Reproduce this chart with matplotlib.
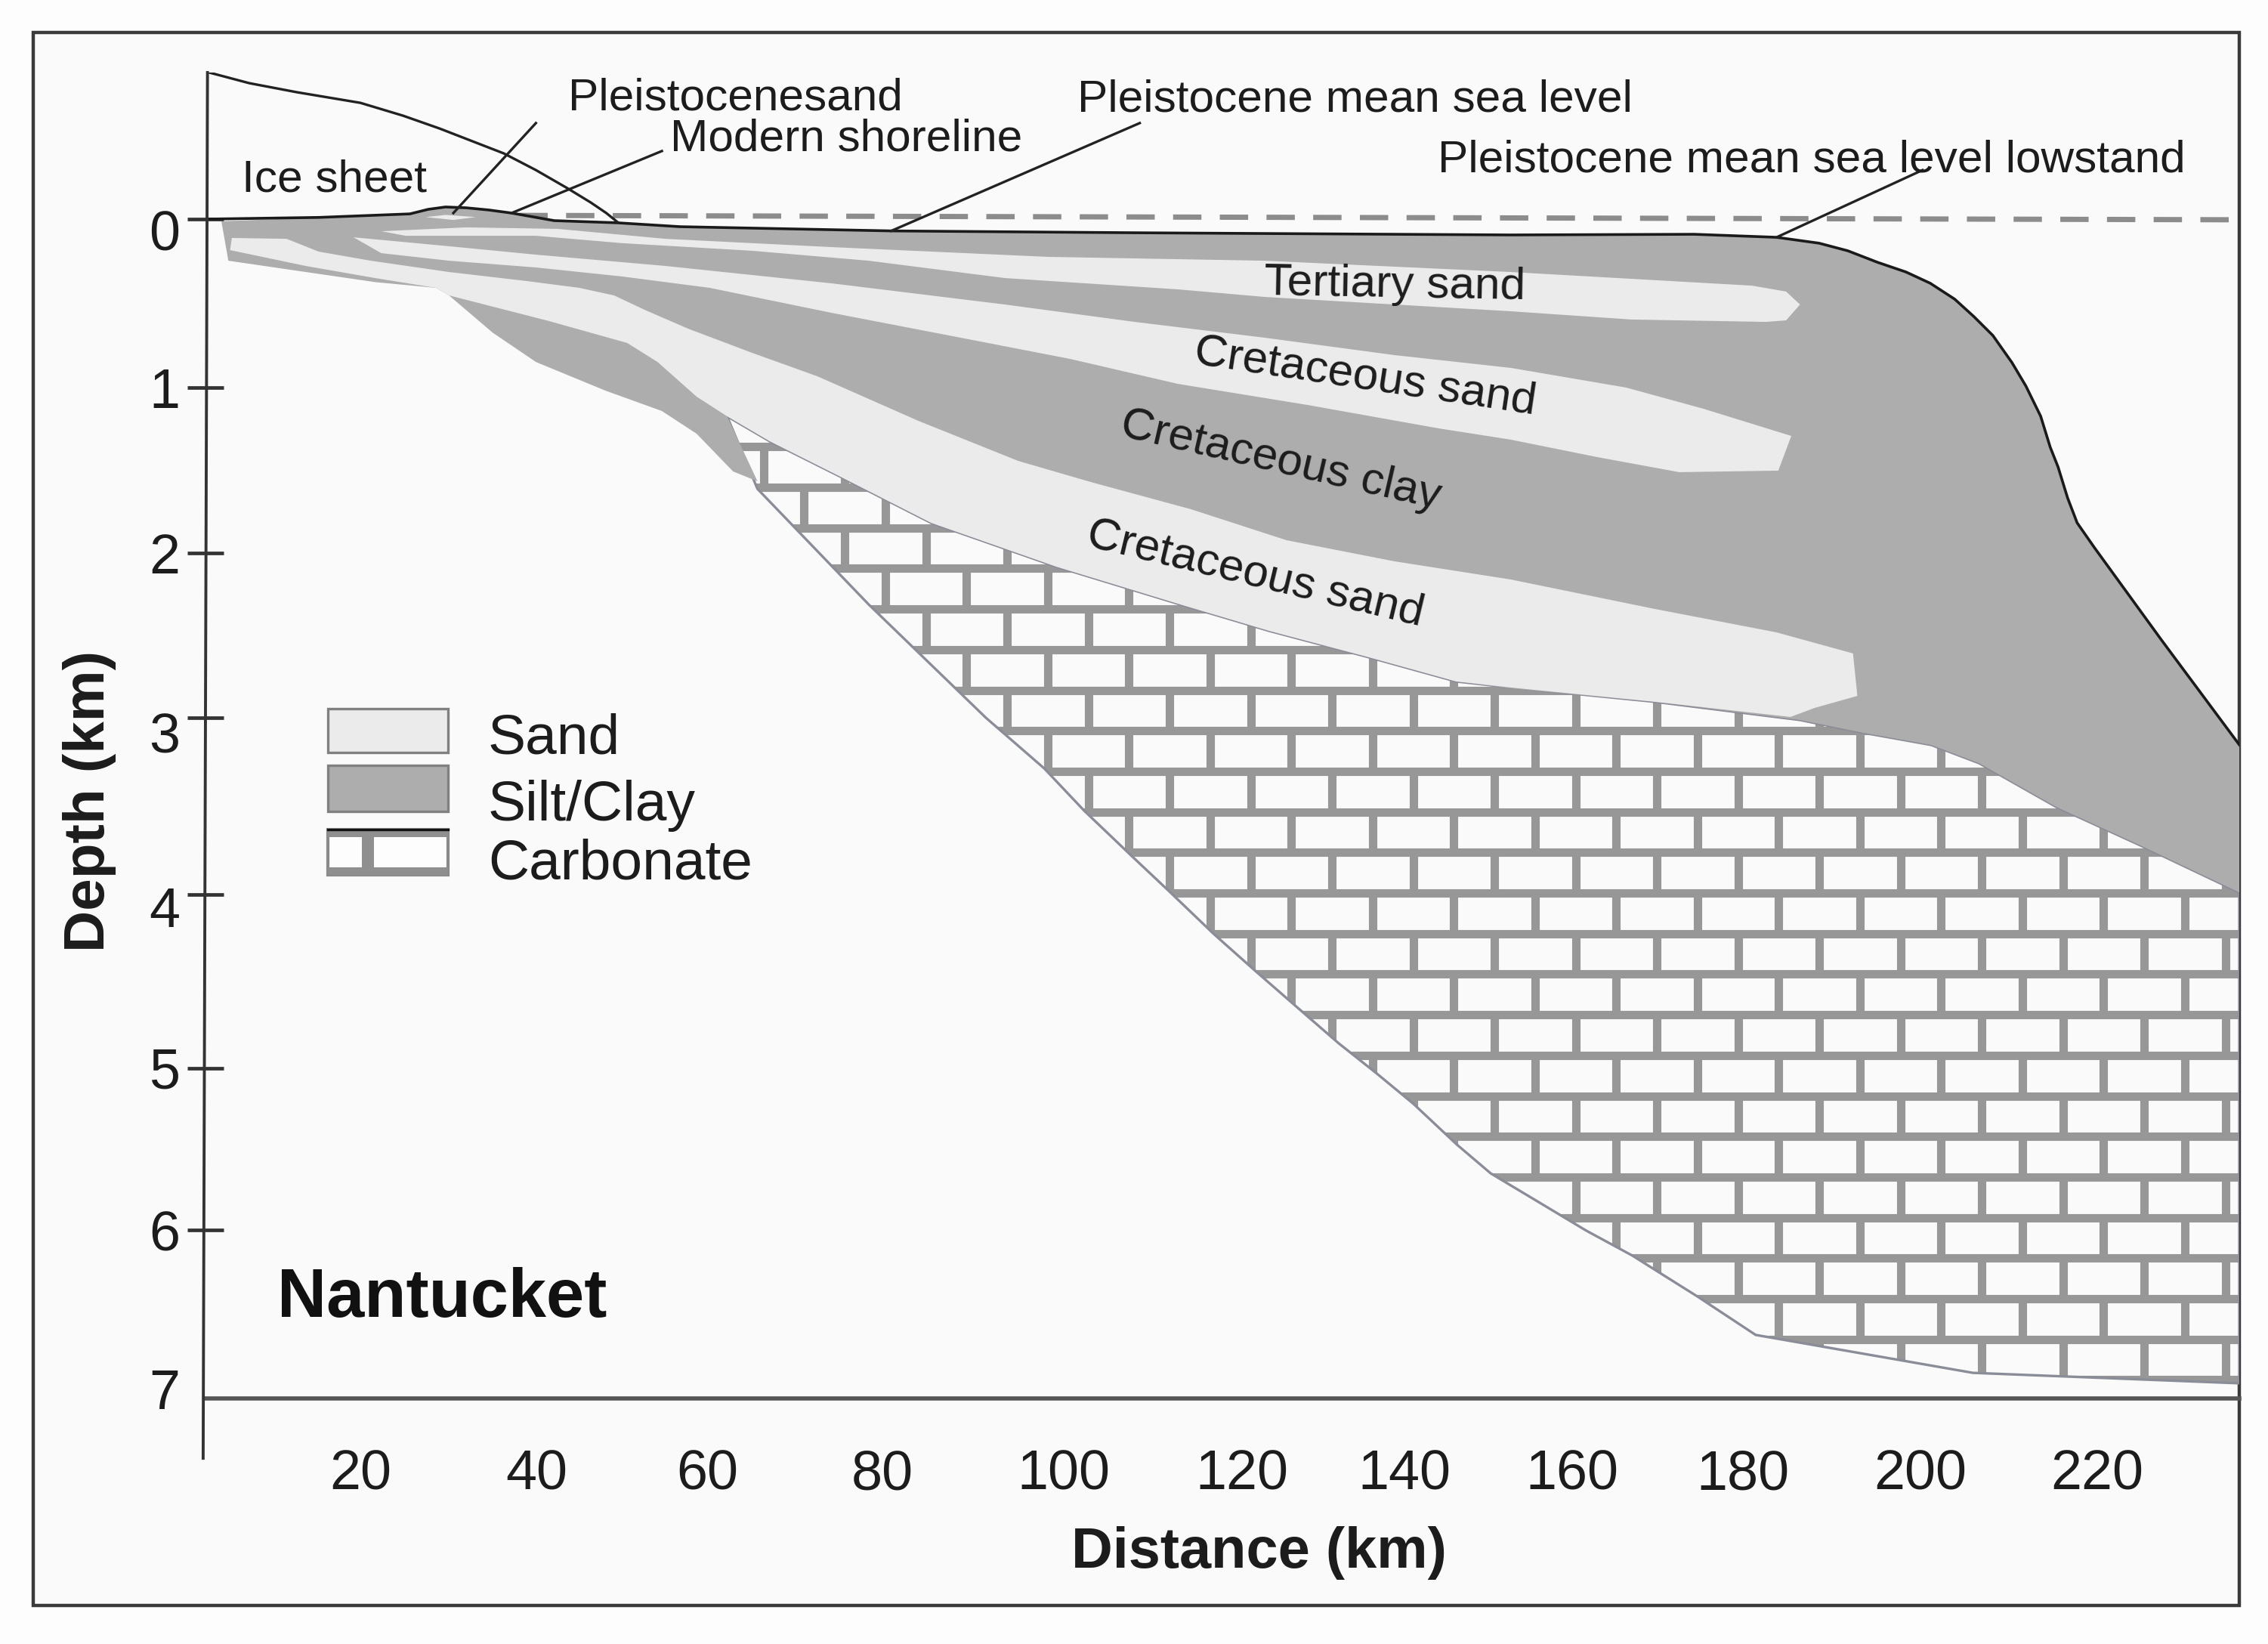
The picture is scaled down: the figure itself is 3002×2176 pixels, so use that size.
import numpy as np
import matplotlib
matplotlib.use("Agg")
import matplotlib.pyplot as plt
from matplotlib.patches import Polygon, Rectangle
from matplotlib.transforms import ScaledTranslation

plt.rcParams['font.family'] = ['Liberation Sans', 'DejaVu Sans']

W, H = 3002, 2176
TXT = '#1c1c1c'
SILT = '#adadad'
SAND = '#ebebeb'
MORTAR = '#979797'

# axis ticks as they sit on the drawing (km), the figure is a sketch so not evenly spaced
x_tick_pos = [20, 40.3, 59.9, 80.1, 100.9, 121.5, 140.2, 159.5, 179.1, 199.5, 219.9]
x_tick_labels = ['20', '40', '60', '80', '100', '120', '140', '160', '180', '200', '220']
y_tick_pos = [0, 1, 1.98, 2.96, 4.01, 5.04, 6, 7]
y_tick_labels = ['0', '1', '2', '3', '4', '5', '6', '7']
y_label_shift = [14, 0, 0, 19, 16, 0, 0, -13]

# distance (km), depth (km)
ice_x = [2.6, 7.2, 12.7, 16.3, 20, 24.9, 29.1, 32.9, 36.5, 40.2, 43.8, 46.5, 48.3, 49.6]
ice_z = [-0.87, -0.807, -0.753, -0.722, -0.69, -0.614, -0.538, -0.462, -0.39, -0.291, -0.184, -0.099, -0.036, 0.018]

surface_x = [2.2, 15.2, 25.7, 27.8, 29.8, 32.2, 34.8, 37.4, 42.3, 49.6, 56.8, 81.1, 109, 152.4, 173.5,
             183, 187.9, 191.2, 194.6, 197.9, 200.7, 203.5, 205.7, 207.9, 210.1, 211.7, 213.4, 214.5, 215.4,
             216.5, 217.6, 219.6, 227.3, 236.26]
surface_z = [0, -0.01, -0.031, -0.058, -0.072, -0.067, -0.054, -0.036, 0.009, 0.022, 0.045, 0.07, 0.081, 0.094, 0.09,
             0.108, 0.143, 0.188, 0.256, 0.314, 0.381, 0.475, 0.578, 0.691, 0.852, 0.991, 1.17, 1.354, 1.471,
             1.655, 1.803, 1.951, 2.498, 3.12]

silt_base_x = [236.26, 224.7, 215.2, 206.3, 200.8, 193, 185.7, 169, 152.4, 146.1, 136.1, 124.6, 114.1,
               100.1, 85.7, 75.1, 67.1, 62.2, 65.7, 62.9, 58.7, 54.7, 48.2, 40.2, 35.2, 30.2, 28.7, 21.7, 4.8, 4.0]
silt_base_z = [3.996, 3.713, 3.489, 3.229, 3.121, 3.049, 2.973, 2.865, 2.785, 2.744, 2.601, 2.444, 2.283,
               2.063, 1.803, 1.525, 1.318, 1.17, 1.556, 1.498, 1.274, 1.139, 1.018, 0.848, 0.673, 0.453, 0.408, 0.374, 0.247, 0.013]

sand_low_x = [5.2, 11.5, 15.2, 21.2, 30.2, 39.2, 45.2, 49.2, 52.7, 57.7, 65.1, 72.6, 84.2, 95.7, 104.1, 115.6,
              126.6, 139, 152.4, 169, 183, 191.8, 192.3, 187.4, 184.6, 169, 152.4, 146.1, 136.1, 124.6, 114.1,
              100.1, 85.7, 75.1, 67.1, 62.2, 58.7, 54.2, 50.7, 41.7, 30.2, 28.7, 21.7, 13.7, 5.0]
sand_low_z = [0.112, 0.117, 0.193, 0.247, 0.314, 0.368, 0.408, 0.453, 0.538, 0.65, 0.794, 0.933, 1.197, 1.435, 1.561, 1.722,
              1.906, 2.031, 2.139, 2.314, 2.453, 2.578, 2.83, 2.901, 2.955, 2.865, 2.78, 2.744, 2.601, 2.444, 2.283,
              2.063, 1.803, 1.525, 1.318, 1.17, 1.054, 0.848, 0.735, 0.605, 0.453, 0.408, 0.35, 0.278, 0.184]

sand_mid_x = [19.2, 30.2, 40.2, 55.1, 74.2, 94.2, 109.1, 124.1, 139, 152.4, 165.7, 174.6, 184.7, 183.2, 171.8,
              162.4, 152.4, 144.1, 129, 114.1, 101.7, 89.1, 74.2, 60.2, 50.2, 40.2, 30.2, 22.4]
sand_mid_z = [0.108, 0.161, 0.211, 0.278, 0.381, 0.507, 0.61, 0.704, 0.807, 0.883, 1, 1.126, 1.287, 1.493, 1.502,
              1.413, 1.309, 1.242, 1.103, 0.978, 0.83, 0.704, 0.556, 0.408, 0.341, 0.287, 0.247, 0.202]

sand_top_x = [22.4, 32.2, 42.7, 55.1, 74.2, 99.1, 124.1, 152.4, 180.2, 184.1, 185.7, 184.1, 181.8, 166.3,
              152.4, 124.1, 114.1, 94.2, 78.5, 65.1, 50.2, 40.2, 25.2]
sand_top_z = [0.072, 0.049, 0.058, 0.117, 0.166, 0.224, 0.247, 0.314, 0.395, 0.43, 0.507, 0.601, 0.61, 0.596,
              0.547, 0.462, 0.417, 0.35, 0.247, 0.188, 0.143, 0.099, 0.099]

sand_hill_x = [27.5, 29.8, 33.3, 30.7]
sand_hill_z = [-0.012, -0.025, -0.012, 0.005]

carb_x = [62.2, 67.1, 75.1, 85.7, 100.1, 114.1, 124.6, 136.1, 146.1, 152.4, 169, 185.7, 193, 200.8, 206.3, 215.2, 224.7, 236.26,
          236.26, 205.6, 180.6, 173.9, 166.4, 161.1, 150.1, 146.2, 141.2, 137, 132.6, 127.9, 123, 118.2, 113.3, 108.4, 103.3, 98.7, 92, 78.5, 65.7]
carb_z = [1.17, 1.318, 1.525, 1.803, 2.063, 2.283, 2.444, 2.601, 2.744, 2.78, 2.865, 2.973, 3.049, 3.121, 3.229, 3.489, 3.713, 3.996,
          6.91, 6.848, 6.623, 6.395, 6.152, 6.004, 5.664, 5.493, 5.251, 5.072, 4.892, 4.682, 4.462, 4.242, 4, 3.762, 3.511, 3.26, 2.96, 2.287, 1.601]

sea_level_x = [38.3, 236.26]
sea_level_z = [-0.022, 0.004]

# leader lines: start and end of each
leaders = {
    'pleistocene sand': ([40.2, 30.7], [-0.57, -0.036]),
    'shoreline': ([54.7, 37.4], [-0.404, -0.036]),
    'sea level': ([109.7, 81.1], [-0.57, 0.07]),
    'lowstand': ([199.8, 183], [-0.291, 0.108]),
}

fig = plt.figure(figsize=(W / 100, H / 100), dpi=100, facecolor='#fdfdfd')


def fx(x):
    return x / W


def fy(y):
    return 1 - y / H


def fig_box(x0, y0, x1, y1, **kw):
    fig.add_artist(Rectangle((fx(x0), fy(y1)), (x1 - x0) / W, (y1 - y0) / H, transform=fig.transFigure, **kw))


# frame
fig_box(44, 43, 2964, 2125, facecolor='#fafafa', edgecolor='#3a3a3a', linewidth=3.2, zorder=-1)

ax = fig.add_axes([fx(272), fy(1851), (2964 - 272) / W, (1851 - 96) / H])
ax.patch.set_visible(False)
ax.set_xlim(2.17, 236.26)
ax.set_ylim(7, -0.87)
for s in ['top', 'right', 'left']:
    ax.spines[s].set_visible(False)
ax.spines['bottom'].set_linewidth(4)
ax.spines['bottom'].set_color('#555555')

# carbonate, bricks clipped to the outline
carb = Polygon(np.column_stack([carb_x, carb_z]), closed=True, facecolor='#fafafa', edgecolor='none', zorder=1)
ax.add_patch(carb)
row_h = 0.2408
brick_w = 9.348
for k in range(-10, 17):
    z = 3.037 + k * row_h
    hl = ax.hlines(z, 2.17, 236.26, color=MORTAR, linewidth=8, zorder=2)
    hl.set_clip_path(carb)
    start = 155.2 if k % 2 == 0 else 159.9
    xs = start + brick_w * np.arange(-20, 12)
    vl = ax.vlines(xs, z, z + row_h, color=MORTAR, linewidth=8, zorder=2)
    vl.set_clip_path(carb)
ax.add_patch(Polygon(np.column_stack([carb_x, carb_z]), closed=True, facecolor='none',
                     edgecolor='#8a8d98', linewidth=2.4, zorder=3))

# sediment layers
silt_x = surface_x[1:] + silt_base_x
silt_z = surface_z[1:] + silt_base_z
silt_x[0], silt_z[0] = 4.0, 0.013
ax.add_patch(Polygon(np.column_stack([silt_x, silt_z]), closed=True, facecolor=SILT, edgecolor='none', zorder=4))
for sx, sz in [(sand_low_x, sand_low_z), (sand_mid_x, sand_mid_z), (sand_top_x, sand_top_z), (sand_hill_x, sand_hill_z)]:
    ax.add_patch(Polygon(np.column_stack([sx, sz]), closed=True, facecolor=SAND, edgecolor='none', zorder=5))

# lines
ax.plot(sea_level_x, sea_level_z, color='#8c8c8c', linewidth=5, dashes=(5.4, 3.5), dash_capstyle='butt', zorder=3, clip_on=False)
ax.plot(surface_x, surface_z, color='#1a1a1a', linewidth=2.6, zorder=6)
ax.plot(ice_x, ice_z, color='#222222', linewidth=2.4, zorder=6)
for lx, lz in leaders.values():
    ax.plot(lx, lz, color='#222222', linewidth=2.4, zorder=6)

# y axis line leans a little and runs past the bottom line
ax.plot([2.4, 1.9], [-0.87, 7.355], color='#333333', linewidth=2.8, zorder=6, clip_on=False)

ax.set_xticks(x_tick_pos)
ax.set_xticklabels(x_tick_labels)
ax.set_yticks(y_tick_pos)
ax.set_yticklabels(y_tick_labels)
ax.tick_params(axis='x', length=0, pad=48, labelsize=53, labelcolor=TXT)
ax.tick_params(axis='y', direction='inout', length=34, width=3.4, color='#333333', pad=7.5, labelsize=53, labelcolor=TXT)
ax.yaxis.get_major_ticks()[-1].tick1line.set_visible(False)
for lab, shift in zip(ax.get_yticklabels(), y_label_shift):
    lab.set_transform(lab.get_transform() + ScaledTranslation(0, -shift / 100, fig.dpi_scale_trans))

ax.set_xlabel('Distance (km)', fontsize=54.5, fontweight='bold', color=TXT, va='baseline')
ax.xaxis.set_label_coords(0.518, -0.1276)
ax.set_ylabel('Depth (km)', fontsize=55, fontweight='bold', color=TXT)
ax.yaxis.set_label_coords(-0.044, 0.4507)

# annotation text
notes = [
    ('Pleistocenesand', 752, 145), ('Modern shoreline', 887, 200),
    ('Pleistocene mean sea level', 1426, 148), ('Pleistocene mean sea level lowstand', 1903, 228),
    ('Ice sheet', 320, 253),
]
for t, x, y in notes:
    fig.text(fx(x), fy(y), t, fontsize=43.5, color=TXT, va='baseline', ha='left')

layers = [
    ('Tertiary sand', 1846, 378, -1),
    ('Cretaceous sand', 1807, 499, -8.5),
    ('Cretaceous clay', 1695, 610, -13),
    ('Cretaceous sand', 1662, 760, -13.5),
]
for t, x, y, rot in layers:
    fig.text(fx(x), fy(y), t, fontsize=43.5, color=TXT, rotation=rot, rotation_mode='anchor', ha='center', va='center')

fig.text(fx(367), fy(1743), 'Nantucket', fontsize=65, fontweight='bold', color='#111111', va='baseline')

# legend
fig_box(434, 938, 593, 996, facecolor=SAND, edgecolor='#808080', linewidth=2.4)
fig_box(434, 1013, 593, 1074, facecolor=SILT, edgecolor='#808080', linewidth=2.4)
fig_box(434, 1098, 593, 1158, facecolor='#fdfdfd', edgecolor='#8a8a8a', linewidth=3)
fig_box(434, 1098, 593, 1108, facecolor='#8f8f8f', edgecolor='none')
fig_box(434, 1148, 593, 1158, facecolor='#8f8f8f', edgecolor='none')
fig_box(479, 1108, 495, 1148, facecolor='#8f8f8f', edgecolor='none')
fig.add_artist(plt.Line2D([fx(434), fx(593)], [fy(1098), fy(1098)], color='#111111', linewidth=2.4))
for t, y in [('Sand', 998), ('Silt/Clay', 1086), ('Carbonate', 1163)]:
    fig.text(fx(646), fy(y), t, fontsize=54, color=TXT, va='baseline')

fig.savefig('out.png', dpi=100, facecolor=fig.get_facecolor())
